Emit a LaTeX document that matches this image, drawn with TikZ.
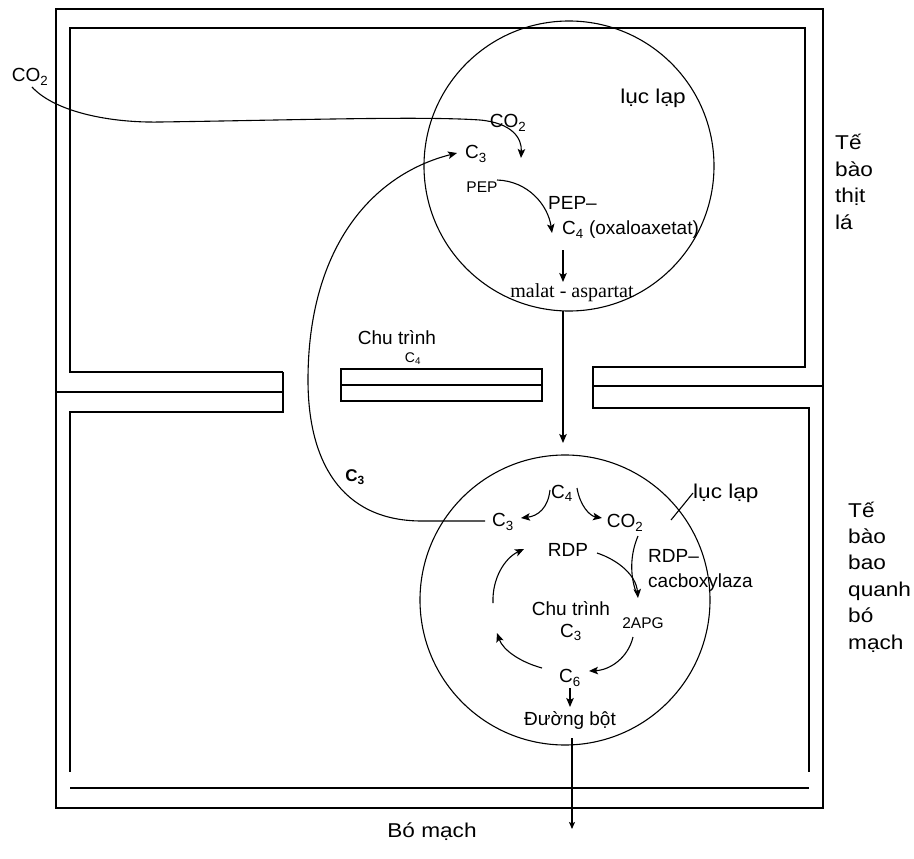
\documentclass[tikz,border=0pt]{standalone}
\usepackage{fontspec}
\setmainfont{Liberation Sans}
\newfontfamily\widesans{Liberation Sans}[FakeStretch=1.13]
\newfontfamily\serifx{Liberation Serif}
\usetikzlibrary{arrows.meta}
\begin{document}
\begin{tikzpicture}[x=1pt,y=-1pt,
  wall/.style={line width=1.3pt},
  ln/.style={line width=1.1pt},
  arr/.style={line width=1.1pt,-{Stealth[length=9pt,width=7.5pt,inset=2pt]}},
  lbl/.style={inner sep=0pt,font=\fontsize{19}{22}\selectfont},
  big/.style={inner sep=0pt,font=\widesans\fontsize{20}{22}\selectfont},
  sml/.style={inner sep=0pt,font=\fontsize{15.5}{18}\selectfont},
  ser/.style={inner sep=0pt,font=\serifx\fontsize{20}{22}\selectfont}]
\useasboundingbox (0,0) rectangle (914,859);
% ---- cell walls ----
\draw[wall] (56,9) rectangle (823,808);
\draw[wall] (283,372) -- (70,372) -- (70,28) -- (805,28) -- (805,367) -- (593,367) -- (593,408) -- (809,408) -- (809,772);
\draw[wall] (56,392) -- (283,392);
\draw[wall] (283,372) -- (283,412) -- (70,412) -- (70,772);
\draw[wall] (593,386) -- (823,386);
\draw[wall] (70,788) -- (809,788);
\draw[wall] (341,369) rectangle (542,401);
\draw[wall] (341,385) -- (542,385);
% ---- chloroplasts ----
\draw[ln] (569,166) circle [radius=145];
\draw[ln] (565,600) circle [radius=145];
% ---- labels: upper cell ----
\node[lbl] (co2out) at (30,77) {CO\textsubscript{2}};
\node[big] (lucA) at (653,98) {lục lạp};
\node[lbl] (co2in) at (508,123) {CO\textsubscript{2}};
\node[lbl] (c3a) at (476,154) {C\textsubscript{3}};
\node[sml] (pep) at (482,187) {PEP};
\node[lbl,anchor=west] (pepd) at (548,203) {PEP–};
\node[lbl,anchor=west] (c4ox) at (562,230) {C\textsubscript{4} (oxaloaxetat)};
\node[ser] (malat) at (572,293) {malat - aspartat};
\node[lbl] (chu4) at (397,338) {Chu trình};
\node[sml,font=\fontsize{14}{16}\selectfont] (c4lbl) at (413,359) {C\textsubscript{4}};
\node[big,anchor=west,align=left,font=\widesans\fontsize{20}{26.6}\selectfont] (tethit) at (835,182) {Tế\\bào\\thịt\\lá};
% ---- labels: lower cell ----
\node[lbl,font=\bfseries\fontsize{17}{20}\selectfont] (c3bold) at (355,477) {C\textsubscript{3}};
\node[lbl] (c4b) at (562,493) {C\textsubscript{4}};
\node[lbl] (c3b) at (503,522) {C\textsubscript{3}};
\node[lbl] (co2b) at (625,523) {CO\textsubscript{2}};
\node[big,anchor=west] (lucB) at (693,493) {lục lạp};
\node[lbl] (rdp) at (568,550) {RDP};
\node[lbl,anchor=west,align=left,font=\fontsize{19}{25}\selectfont] (rdpc) at (648,570) {RDP–\\cacboxylaza};
\node[sml] (apg) at (643,623) {2APG};
\node[lbl,align=center,font=\fontsize{19}{22}\selectfont] (chu3) at (571,621) {Chu trình\\C\textsubscript{3}};
\node[lbl] (c6) at (570,678) {C\textsubscript{6}};
\node[lbl] (duong) at (570,720) {Đường bột};
\node[big] (bomach) at (432,832) {Bó mạch};
\node[big,anchor=west,align=left,font=\widesans\fontsize{20}{26.4}\selectfont] (tebao) at (848,577) {Tế\\bào\\bao\\quanh\\bó\\mạch};
% ---- coordinates ----
\coordinate (co2s) at (32,87);
\coordinate (co2e) at (521,158);
\coordinate (c3s) at (485,521);
\coordinate (c3e) at (457,153);
\coordinate (peps) at (497,180);
\coordinate (pepe) at (552,233);
\coordinate (ox) at (563,250);
\coordinate (mal) at (563,282);
\coordinate (malbot) at (563,311);
\coordinate (malend) at (563,443);
\coordinate (c4l) at (550,490);
\coordinate (c3t) at (521,518);
\coordinate (c4r) at (577,488);
\coordinate (co2t) at (602,518);
\coordinate (rdpr) at (597,553);
\coordinate (apgt) at (638,598);
\coordinate (co2d) at (638,536);
\coordinate (cyc1s) at (493,603);
\coordinate (cyc1e) at (524,549);
\coordinate (cyc2s) at (542,668);
\coordinate (cyc2e) at (497,633);
\coordinate (cyc3s) at (633,637);
\coordinate (cyc3e) at (589,671);
\coordinate (c6b) at (570,688);
\coordinate (duongt) at (570,707);
\coordinate (duongb) at (572,738);
\coordinate (vessel) at (572,829);
\coordinate (lucm) at (671,520);
% ---- connectors ----
\draw[arr] (co2s) .. controls (55,112) and (110,123) .. (160,122)
  .. controls (300,120) and (420,116) .. (480,120)
  .. controls (512,123) and (522,138) .. (co2e);
\draw[arr] (c3s) -- (420,521) .. controls (340,520) and (308,460) .. (308,380)
  .. controls (308,250) and (370,175) .. (c3e);
\draw[arr] (peps) .. controls (528,181) and (548,205) .. (pepe);
\draw[arr] (ox) -- (mal);
\draw[arr] (malbot) -- (malend);
\draw[arr] (c4l) .. controls (548,508) and (538,516) .. (c3t);
\draw[arr] (c4r) .. controls (580,506) and (590,516) .. (co2t);
\draw[arr] (rdpr) .. controls (618,560) and (636,575) .. (apgt);
\draw[ln] (co2d) .. controls (630,555) and (630,575) .. (636,592);
\draw[arr] (cyc1s) .. controls (492,578) and (505,558) .. (cyc1e);
\draw[arr] (cyc2s) .. controls (520,662) and (503,650) .. (cyc2e);
\draw[arr] (cyc3s) .. controls (628,658) and (610,670) .. (cyc3e);
\draw[arr] (c6b) -- (duongt);
\draw[line width=1.3pt,-{Stealth[length=7pt,width=6pt,inset=1.5pt]}] (duongb) -- (vessel);
\draw[ln] (lucB.west) -- (lucm);
\end{tikzpicture}
\end{document}
